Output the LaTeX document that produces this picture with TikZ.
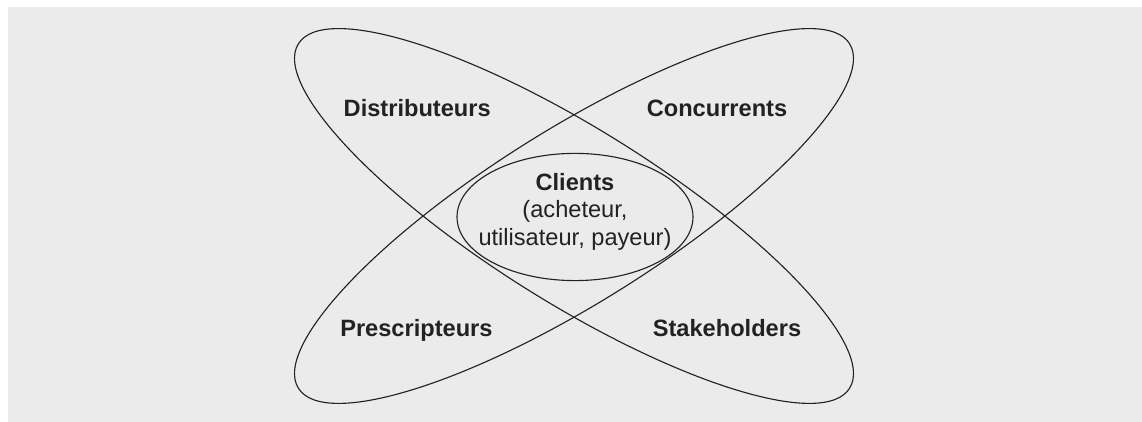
\documentclass[tikz,border=0pt]{standalone}
\usepackage{fontspec}
\setmainfont{Liberation Sans}
\usepackage{tikz}
\usetikzlibrary{calc}
\usepackage{xcolor}
\definecolor{bggray}{HTML}{EBEBEB}
\definecolor{ink}{HTML}{222222}
\newcommand{\grp}[1]{{\bfseries #1}}

\begin{document}
\begin{tikzpicture}[
    line/.style={draw=ink, line width=0.8pt},
    lab/.style={text=ink, anchor=base, inner sep=0pt,
      font=\fontsize{16.8}{19.6}\selectfont}
  ]
  \useasboundingbox (-14.35,5.4) rectangle (14.2,-5.15);
  \fill[bggray] (-14.15,5.225) rectangle (14.2,-5.15);

  % the two crossed ellipses
  \draw[line, rotate=-32] (0,0) ellipse (8.125 and 2.175);
  \draw[line, rotate=32] (0,0) ellipse (8.125 and 2.175);

  \node[lab](d) at (-3.92,2.48) {\grp{Distributeurs}};
  \node[lab](k) at (3.575,2.48) {\grp{Concurrents}};
  \node[lab](p) at (-3.94,-3.02) {\grp{Prescripteurs}};
  \node[lab](s) at (3.825,-3.02) {\grp{Stakeholders}};

  % clients in the middle
  \draw[line] (0.025,-0.025) ellipse (2.95 and 1.59);
  \node[lab, anchor=center, align=center](c) at (0.025,0.11)
    {\grp{Clients}\\(acheteur,\\utilisateur, payeur)};

\end{tikzpicture}
\end{document}
